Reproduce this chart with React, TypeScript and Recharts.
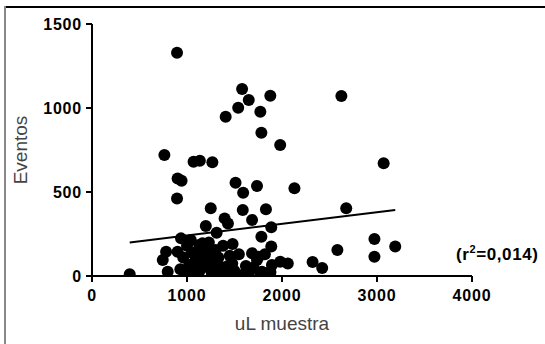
import React from 'react';
import { ScatterChart, Scatter, XAxis, YAxis, ReferenceLine } from 'recharts';

const muestraUL = [
  895, 1580, 1877, 1650, 1539, 1407, 1772, 1783, 1981, 2625,
  762, 1069, 1135, 1267, 901, 943, 895, 1511, 1591, 1737,
  1250, 1587, 1831, 1396, 1431, 1685, 1198, 1312, 937, 1887, 1783, 1887,
  3070, 2131, 2676, 2973, 2973, 3192, 2583, 2322, 2423, 2061, 1981, 1894, 1755, 1789, 1877,
  397,
  780, 901, 745, 797, 1040, 1128, 1023, 989, 1128, 1198, 1163, 1198, 1301, 1267, 1354, 1546, 1685, 1737, 1476, 1407, 1580, 1772, 1877,
  960, 1050, 1090, 1000, 1100, 1150, 1230, 1260, 1330, 1380, 1450, 1500, 1620, 1650, 1700, 1820, 1060, 930, 1160, 1350, 1480, 1210, 1290, 1430,
];
const eventos = [
  1329, 1113, 1073, 1048, 1002, 948, 978, 853, 780, 1071,
  720, 680, 686, 677, 581, 567, 462, 555, 496, 536,
  403, 393, 397, 343, 313, 333, 298, 258, 224, 290, 234, 175,
  671, 522, 403, 220, 115, 175, 155, 83, 48, 75, 85, 65, 115, 26, 26,
  10,
  145, 145, 95, 26, 214, 185, 65, 16, 26, 95, 195, 55, 155, 95, 55, 129, 135, 95, 75, 26, 6, 16, 20,
  110, 140, 100, 180, 40, 140, 200, 20, 110, 180, 120, 30, 60, 20, 50, 130, 10, 40, 60, 10, 190, 150, 60, 60,
];
const xTicks = [0, 1000, 2000, 3000, 4000];
const yTicks = [0, 500, 1000, 1500];
const fitX = [397, 3192];
const fitY = [200, 393];
const r2Label = '0,014';

const points = muestraUL.map((x, i) => ({ x, y: eventos[i] }));
const fitSegment = fitX.map((x, i) => ({ x, y: fitY[i] }));

const tickFont = { fontFamily: 'Liberation Sans, Arial, sans-serif', fontWeight: 700, fontSize: 16, fill: '#000', letterSpacing: 0.8 };

export default function App() {
  return (
    <div style={{ position: 'absolute', left: 0, top: 0, width: 545, height: 344, background: '#fff', overflow: 'hidden' }}>
      <div style={{ position: 'absolute', left: 5, top: 6, width: 540, height: 2, background: '#000' }} />
      <div style={{ position: 'absolute', left: 4, top: 6, width: 2, height: 338, background: '#888' }} />
      <ScatterChart width={545} height={344} margin={{ top: 24, right: 73, left: 12, bottom: 8 }}>
        <XAxis
          type="number"
          dataKey="x"
          domain={[0, 4000]}
          ticks={xTicks}
          allowDataOverflow
          axisLine={{ stroke: '#000', strokeWidth: 2 }}
          tickLine={{ stroke: '#000', strokeWidth: 2 }}
          tickSize={6}
          tickMargin={8}
          height={60}
          tick={tickFont}
          label={{ value: 'uL muestra', position: 'insideBottom', offset: 6, style: { fontFamily: 'Liberation Sans, Arial, sans-serif', fontSize: 19, fill: '#444' } }}
        />
        <YAxis
          type="number"
          dataKey="y"
          domain={[0, 1500]}
          ticks={yTicks}
          allowDataOverflow
          axisLine={{ stroke: '#000', strokeWidth: 2 }}
          tickLine={{ stroke: '#000', strokeWidth: 2 }}
          tickSize={6}
          tickMargin={4}
          width={80}
          tick={tickFont}
          label={{ value: 'Eventos', angle: -90, position: 'insideLeft', offset: 8, style: { textAnchor: 'middle', fontFamily: 'Liberation Sans, Arial, sans-serif', fontSize: 19, fill: '#444' } }}
        />
        <Scatter
          data={points}
          fill="#000"
          isAnimationActive={false}
          shape={(p: any) => <circle cx={p.cx} cy={p.cy} r={6} fill="#000" />}
        />
        <ReferenceLine segment={fitSegment} stroke="#000" strokeWidth={2} ifOverflow="visible" />
      </ScatterChart>
      <div style={{ position: 'absolute', left: 456, top: 243, fontFamily: 'Liberation Sans, Arial, sans-serif', fontWeight: 700, fontSize: 17, letterSpacing: 0.6, color: '#000', whiteSpace: 'nowrap' }}>
        (r<sup style={{ fontSize: 11 }}>2</sup>={r2Label})
      </div>
    </div>
  );
}
